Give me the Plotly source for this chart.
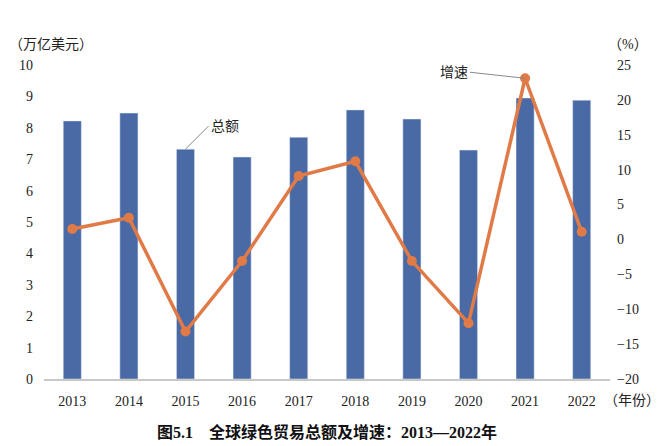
import plotly.graph_objects as go

years = [2013, 2014, 2015, 2016, 2017, 2018, 2019, 2020, 2021, 2022]
year_labels = ["2013", "2014", "2015", "2016", "2017", "2018", "2019", "2020", "2021", "2022"]
total = [8.22, 8.47, 7.32, 7.07, 7.70, 8.57, 8.28, 7.29, 8.95, 8.88]
growth = [1.5, 3.1, -13.2, -3.1, 9.1, 11.2, -3.1, -12.0, 23.1, 1.1]

FONT = "Liberation Serif, Noto Sans CJK SC, serif"
BAR = "#4a6aa5"
LINE = "#e07a47"
TXT = "#222222"

fig = go.Figure()
fig.add_trace(go.Bar(x=years, y=total, marker_color=BAR, width=0.32, name="总额", yaxis="y"))
fig.add_trace(go.Scatter(x=years, y=growth, mode="lines+markers", yaxis="y2", name="增速",
                         line=dict(color=LINE, width=3.5),
                         marker=dict(color=LINE, size=10)))

fig.update_layout(
    width=652, height=438,
    margin=dict(l=36, r=50, t=57, b=67, autoexpand=False),
    paper_bgcolor="white", plot_bgcolor="white",
    showlegend=False,
    font=dict(family=FONT, size=14, color=TXT),
    xaxis=dict(range=[2012.5, 2022.5], tickvals=years, ticktext=year_labels,
               showgrid=False, zeroline=False, showline=True, linecolor="#c8c8c8", linewidth=1.5,
               ticks="", ticklabelstandoff=8, tickfont=dict(size=14, color=TXT)),
    yaxis=dict(range=[0, 10], dtick=1, showgrid=False, zeroline=False, showline=False,
               ticks="", ticklabelstandoff=10, tickfont=dict(size=14, color=TXT)),
    yaxis2=dict(range=[-20, 25], dtick=5, overlaying="y", side="right", showgrid=False,
                zeroline=False, showline=False, ticks="", ticklabelstandoff=6,
                tickfont=dict(size=14, color=TXT), tickformat="d"),
)

fig.add_annotation(text="（万亿美元）", xref="paper", yref="paper", x=-0.065, y=1.064,
                   xanchor="left", yanchor="middle", showarrow=False, font=dict(size=14))
fig.add_annotation(text="（%）", xref="paper", yref="paper", x=1.071, y=1.064,
                   xanchor="right", yanchor="middle", showarrow=False, font=dict(size=14))
fig.add_annotation(text="（年份）", xref="paper", yref="paper", x=0.985, y=-0.067,
                   xanchor="left", yanchor="middle", showarrow=False, font=dict(size=14))
fig.add_annotation(text="<b>图5.1    全球绿色贸易总额及增速：2013—2022年</b>", xref="paper", yref="paper",
                   x=0.5, y=-0.169, xanchor="center", yanchor="middle", showarrow=False,
                   font=dict(size=16, color="#111"))

# callouts
fig.add_annotation(text="总额", x=2015, y=total[2], xref="x", yref="y",
                   ax=23, ay=-23, showarrow=True, arrowhead=0, arrowcolor="#888",
                   arrowwidth=1, xanchor="left", font=dict(size=14))
fig.add_annotation(text="增速", x=2021, y=growth[8], xref="x", yref="y2",
                   ax=-55, ay=-6, showarrow=True, arrowhead=0, arrowcolor="#888",
                   arrowwidth=1, xanchor="right", font=dict(size=14))

fig.write_html("out.html")
